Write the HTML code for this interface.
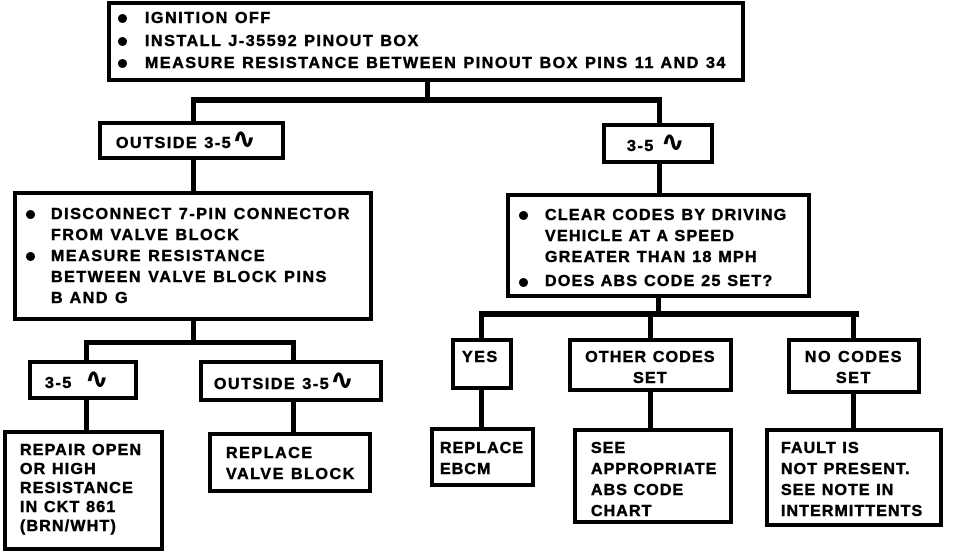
<!DOCTYPE html>
<html><head><meta charset="utf-8"><style>
body{margin:0;width:960px;height:552px;background:#fff;position:relative;overflow:hidden;font-family:"Liberation Sans",Arial,sans-serif;font-weight:bold;font-size:16px;color:#000}
.b{position:absolute;box-sizing:border-box;border:4px solid #000;background:#fff}
.l{position:absolute;background:#000}
.t{position:absolute;white-space:nowrap;line-height:21px;letter-spacing:1.6px;-webkit-text-stroke:0.5px #000}
.c{text-align:center}
.d{position:absolute;width:9px;height:9px;border-radius:50%;background:#000}
.w{font-family:"DejaVu Sans",sans-serif;font-size:28px;line-height:18px;letter-spacing:0}
</style></head><body>
<!-- connectors -->
<div class="l" style="left:425px;top:80px;width:5px;height:22px"></div>
<div class="l" style="left:191px;top:97px;width:471px;height:6px"></div>
<div class="l" style="left:191px;top:97px;width:5px;height:26px"></div>
<div class="l" style="left:657px;top:97px;width:5px;height:27px"></div>
<div class="l" style="left:191px;top:158px;width:5px;height:34px"></div>
<div class="l" style="left:657px;top:162px;width:5px;height:32px"></div>
<div class="l" style="left:191px;top:318px;width:5px;height:26px"></div>
<div class="l" style="left:84px;top:340px;width:212px;height:5px"></div>
<div class="l" style="left:84px;top:340px;width:5px;height:22px"></div>
<div class="l" style="left:291px;top:340px;width:5px;height:22px"></div>
<div class="l" style="left:84px;top:398px;width:5px;height:34px"></div>
<div class="l" style="left:291px;top:400px;width:5px;height:34px"></div>
<div class="l" style="left:656px;top:296px;width:5px;height:19px"></div>
<div class="l" style="left:479px;top:311px;width:380px;height:6px"></div>
<div class="l" style="left:479px;top:311px;width:5px;height:29px"></div>
<div class="l" style="left:648px;top:311px;width:5px;height:29px"></div>
<div class="l" style="left:851px;top:311px;width:5px;height:29px"></div>
<div class="l" style="left:479px;top:388px;width:5px;height:41px"></div>
<div class="l" style="left:648px;top:390px;width:5px;height:40px"></div>
<div class="l" style="left:851px;top:392px;width:5px;height:38px"></div>

<!-- top box -->
<div class="b" style="left:107px;top:1px;width:638px;height:81px"></div>
<div class="d" style="left:118px;top:14px"></div><div class="t" style="left:145px;top:8px">IGNITION OFF</div>
<div class="d" style="left:118px;top:37px"></div><div class="t" style="left:145px;top:31px">INSTALL J-35592 PINOUT BOX</div>
<div class="d" style="left:118px;top:59px"></div><div class="t" style="left:145px;top:53px">MEASURE RESISTANCE BETWEEN PINOUT BOX PINS 11 AND 34</div>

<!-- left branch -->
<div class="b" style="left:98px;top:121px;width:187px;height:39px"></div>
<div class="t" style="left:116px;top:130px">OUTSIDE 3-5<span class="w">∿</span></div>
<div class="b" style="left:13px;top:191px;width:360px;height:130px"></div>
<div class="d" style="left:26px;top:210px"></div>
<div class="t" style="left:51px;top:204px">DISCONNECT 7-PIN CONNECTOR<br>FROM VALVE BLOCK</div>
<div class="d" style="left:26px;top:252px"></div>
<div class="t" style="left:51px;top:246px">MEASURE RESISTANCE<br>BETWEEN VALVE BLOCK PINS<br>B AND G</div>

<div class="b" style="left:28px;top:360px;width:110px;height:40px"></div>
<div class="t" style="left:45px;top:370px">3-5 &nbsp;<span class="w">∿</span></div>
<div class="b" style="left:199px;top:360px;width:184px;height:42px"></div>
<div class="t" style="left:214px;top:371px">OUTSIDE 3-5<span class="w">∿</span></div>
<div class="b" style="left:3px;top:430px;width:161px;height:121px"></div>
<div class="t" style="left:20px;top:441px;line-height:19px;letter-spacing:1.2px">REPAIR OPEN<br>OR HIGH<br>RESISTANCE<br>IN CKT 861<br>(BRN/WHT)</div>
<div class="b" style="left:208px;top:432px;width:164px;height:61px"></div>
<div class="t" style="left:226px;top:443px">REPLACE<br>VALVE BLOCK</div>

<!-- right branch -->
<div class="b" style="left:602px;top:123px;width:112px;height:41px"></div>
<div class="t" style="left:627px;top:133px">3-5 <span class="w">∿</span></div>
<div class="b" style="left:506px;top:193px;width:305px;height:105px"></div>
<div class="d" style="left:519px;top:211px"></div>
<div class="t" style="left:545px;top:205px;letter-spacing:1.3px">CLEAR CODES BY DRIVING<br>VEHICLE AT A SPEED<br>GREATER THAN 18 MPH</div>
<div class="d" style="left:519px;top:278px"></div>
<div class="t" style="left:545px;top:271px;letter-spacing:1.3px">DOES ABS CODE 25 SET?</div>

<div class="b" style="left:451px;top:338px;width:62px;height:52px"></div>
<div class="t" style="left:462px;top:347px">YES</div>
<div class="b" style="left:568px;top:338px;width:165px;height:54px"></div>
<div class="t c" style="left:568px;top:347px;width:165px;letter-spacing:1.2px">OTHER CODES<br>SET</div>
<div class="b" style="left:787px;top:338px;width:134px;height:56px"></div>
<div class="t c" style="left:787px;top:347px;width:134px">NO CODES<br>SET</div>

<div class="b" style="left:430px;top:427px;width:105px;height:60px"></div>
<div class="t" style="left:440px;top:438px;letter-spacing:1.1px">REPLACE<br>EBCM</div>
<div class="b" style="left:573px;top:428px;width:160px;height:96px"></div>
<div class="t" style="left:591px;top:438px;letter-spacing:1.1px">SEE<br>APPROPRIATE<br>ABS CODE<br>CHART</div>
<div class="b" style="left:765px;top:428px;width:178px;height:99px"></div>
<div class="t" style="left:781px;top:438px;letter-spacing:1.1px">FAULT IS<br>NOT PRESENT.<br>SEE NOTE IN<br>INTERMITTENTS</div>
</body></html>
